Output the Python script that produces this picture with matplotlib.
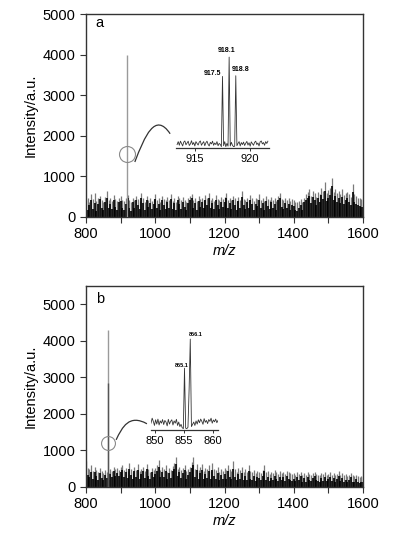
import numpy as np
import matplotlib
matplotlib.use("Agg")
import matplotlib.pyplot as plt
from matplotlib.path import Path
from matplotlib.patches import PathPatch

plt.rcParams['font.family'] = ['Liberation Sans', 'DejaVu Sans']

# ---------------- data ----------------
noise_x = list(range(800, 1601, 5))

noise_a_hi = [
    420, 480, 380, 560, 450, 600, 390, 470, 520, 410, 380, 500, 640, 430, 470, 390, 540, 450, 400, 480,
    520, 430, 390, 460, 540, 410, 370, 480, 420, 510, 450, 400, 590, 460, 380, 520, 430, 470, 400, 440,
    560, 420, 470, 380, 520, 450, 410, 490, 430, 560, 400, 470, 380, 520, 460, 410, 490, 430, 380, 460,
    520, 570, 430, 470, 390, 510, 440, 480, 420, 530, 460, 600, 420, 480, 400, 530, 450, 410, 490, 440,
    500, 580, 430, 470, 410, 520, 460, 400, 490, 430, 640, 450, 410, 480, 420, 530, 470, 400, 460, 440,
    560, 430, 480, 400, 510, 450, 420, 490, 430, 470, 400, 520, 580, 440, 410, 480, 430, 460, 390, 450,
    420, 380, 360, 400, 440, 380, 480, 560, 620, 700, 520, 640, 580, 500, 620, 560, 720, 650, 850, 600,
    660, 720, 970, 620, 700, 580, 640, 560, 680, 540, 600, 620, 560, 500, 810, 560, 520, 480, 460, 440,
    420]
noise_a_lo = [
    380, 180, 300, 420, 200, 350, 160, 310, 450, 220, 170, 380, 470, 230, 330, 190, 420, 250, 180, 360,
    400, 210, 170, 330, 460, 230, 160, 380, 210, 420, 300, 190, 480, 340, 170, 410, 240, 350, 200, 310,
    440, 220, 330, 170, 410, 300, 200, 380, 230, 450, 190, 340, 170, 410, 310, 200, 380, 250, 170, 350,
    420, 460, 220, 340, 180, 400, 240, 370, 210, 430, 300, 480, 220, 350, 190, 420, 290, 200, 380, 250,
    380, 460, 220, 340, 200, 420, 300, 180, 390, 230, 500, 300, 190, 360, 230, 430, 330, 180, 320, 260,
    430, 230, 350, 180, 400, 260, 200, 360, 230, 320, 180, 410, 460, 250, 190, 350, 230, 320, 170, 290,
    260, 170, 160, 220, 300, 180, 360, 430, 470, 520, 350, 490, 430, 300, 470, 380, 540, 440, 650, 400,
    480, 540, 760, 420, 520, 360, 470, 350, 500, 330, 420, 460, 360, 290, 620, 380, 330, 300, 280, 250,
    240]

noise_b_hi = [
    700, 520, 480, 600, 430, 560, 470, 400, 520, 440, 380, 460, 420, 390, 500, 440, 560, 480, 520, 470,
    540, 600, 460, 520, 440, 650, 480, 420, 560, 470, 620, 430, 500, 560, 450, 640, 480, 420, 530, 460,
    520, 600, 740, 460, 540, 480, 600, 420, 520, 460, 580, 650, 830, 480, 550, 460, 520, 600, 440, 500,
    560, 680, 830, 500, 620, 460, 560, 620, 440, 520, 480, 600, 450, 650, 500, 460, 540, 420, 480, 440,
    520, 460, 600, 500, 440, 700, 480, 420, 520, 460, 540, 400, 480, 420, 600, 440, 400, 460, 380, 440,
    420, 380, 460, 600, 400, 440, 360, 420, 380, 460, 400, 360, 430, 380, 420, 360, 450, 400, 380, 360,
    380, 340, 400, 360, 420, 340, 380, 320, 400, 360, 340, 380, 420, 360, 340, 320, 380, 350, 400, 340,
    360, 400, 340, 380, 320, 360, 430, 340, 380, 320, 350, 300, 340, 380, 320, 300, 340, 310, 280, 300,
    280]
noise_b_lo = [
    480, 330, 260, 420, 220, 400, 300, 200, 380, 250, 190, 340, 240, 200, 360, 260, 430, 300, 380, 290,
    420, 470, 270, 400, 240, 500, 320, 210, 430, 280, 470, 230, 360, 440, 250, 480, 300, 210, 400, 260,
    360, 450, 560, 260, 410, 280, 450, 210, 380, 250, 430, 480, 620, 290, 420, 250, 370, 460, 220, 340,
    420, 520, 600, 280, 460, 230, 380, 460, 210, 350, 250, 440, 220, 470, 300, 230, 390, 200, 320, 230,
    360, 230, 430, 280, 210, 500, 260, 190, 350, 230, 380, 180, 300, 200, 430, 230, 190, 290, 170, 260,
    250, 180, 300, 430, 190, 280, 160, 250, 180, 310, 220, 170, 270, 190, 260, 170, 300, 220, 190, 170,
    230, 160, 260, 180, 290, 150, 240, 140, 270, 190, 160, 250, 290, 190, 160, 140, 250, 170, 270, 160,
    210, 270, 160, 240, 140, 210, 300, 170, 250, 140, 200, 130, 200, 260, 150, 130, 210, 140, 120, 150,
    130]

# main peaks
peak_a_x = [918]
peak_a_y = [4000]
peak_b_x = [863, 863]
peak_b_y = [4300, 2850]

# insets
inset_a_x = np.round(np.arange(913.4, 921.65, 0.1), 2)
inset_a_y = [
    150, 280, 120, 300, 200, 90, 260, 310, 140, 220,
    300, 110, 180, 320, 150, 240, 90, 280, 200, 130,
    260, 310, 120, 210, 280, 100, 230, 300, 160, 90,
    250, 180, 300, 120, 220, 150, 280, 100, 200, 160,
    60, 3150, 100, 280, 60, 200, 80, 4000, 90, 250,
    120, 60, 80, 3180, 100, 200, 280, 90, 240, 150,
    260, 110, 210, 290, 130, 230, 80, 270, 190, 120,
    250, 300, 150, 220, 90, 270, 310, 180, 240, 120,
    280, 200, 300]
inset_a_labels = ["917.5", "918.1", "918.8"]
inset_a_label_x = [916.6, 917.9, 919.1]
inset_a_label_y = [3300, 4300, 3450]

inset_b_x = np.round(np.arange(849.3, 860.95, 0.2), 2)
inset_b_y = [
    300, 520, 380, 200, 450, 260, 480, 220, 400, 300,
    460, 240, 420, 350, 180, 470, 260, 380, 450, 220,
    400, 300, 470, 200, 350, 150, 250, 100, 60, 2720,
    80, 60, 120, 1800, 4000, 150, 250, 350, 200, 400,
    260, 450, 320, 480, 380, 250, 500, 340, 420, 280,
    460, 380, 520, 300, 440, 360, 480, 320, 420]
inset_b_labels = ["855.1", "856.1"]
inset_b_label_x = [854.6, 857.0]
inset_b_label_y = [2850, 4180]

W, H = 398, 538
fig = plt.figure(figsize=(W / 100, H / 100), dpi=100)


def px_axes(l, t, r, b):
    return fig.add_axes([l / W, 1 - b / H, (r - l) / W, (b - t) / H])


def main_panel(ax, hi, lo, px, py, ymax, yticks, letter, ly, circ, curve):
    ax.vlines(noise_x, 0, hi, color='#7a7a7a', lw=0.9, zorder=1)
    ax.vlines(noise_x, 0, lo, color='black', lw=1.2, zorder=2)
    ax.vlines(px, 0, py, color=['#9a9a9a', '#555555'][:len(px)], lw=1.0, zorder=3)
    ax.set_xlim(800, 1600)
    ax.set_ylim(0, ymax)
    ax.set_xticks([800, 1000, 1200, 1400, 1600])
    ax.set_xticks([900, 1100, 1300, 1500], minor=True)
    ax.set_yticks(yticks)
    ax.tick_params(axis='both', which='both', direction='out', labelsize=10.5,
                   length=4, width=0.8, color='#333333')
    for s in ax.spines.values():
        s.set_linewidth(1.0)
        s.set_color('#333333')
    ax.set_ylabel('Intensity/a.u.', fontsize=10.5, labelpad=4)
    ax.set_xlabel('m/z', fontsize=10.5, style='italic', labelpad=2)
    ax.text(0.035, ly, letter, transform=ax.transAxes, fontsize=10.5,
            va='center', ha='left')
    ax.plot([circ[0]], [circ[1]], marker='o', ms=circ[2], mfc='none',
            mec='#8a8a8a', mew=0.8, zorder=4)
    path = Path(curve, [Path.MOVETO, Path.CURVE4, Path.CURVE4, Path.CURVE4])
    ax.add_patch(PathPatch(path, fc='none', ec='#333333', lw=0.9, zorder=4))


ax_a = px_axes(86, 14, 363, 217)
main_panel(ax_a, noise_a_hi, noise_a_lo, peak_a_x, peak_a_y, 5000,
           [0, 1000, 2000, 3000, 4000, 5000], 'a', 0.955, (918, 1550, 11.5),
           [(941, 1355), (970, 2000), (1000, 2600), (1043, 2050)])

ax_b = px_axes(86, 286, 363, 487)
main_panel(ax_b, noise_b_hi, noise_b_lo, peak_b_x, peak_b_y, 5500,
           [0, 1000, 2000, 3000, 4000, 5000], 'b', 0.935, (863, 1200, 10),
           [(887, 1290), (905, 1650), (925, 2000), (976, 1730)])


def inset(ax, x, y, xlim, xt, labels, lx, ly, lfs):
    ax.plot(x, y, color='#333333', lw=0.6)
    ax.set_xlim(*xlim)
    ax.set_ylim(0, 4400)
    ax.patch.set_alpha(0)
    for k in ['top', 'right', 'left']:
        ax.spines[k].set_visible(False)
    ax.spines['bottom'].set_linewidth(0.9)
    ax.spines['bottom'].set_color('#333333')
    ax.set_yticks([])
    ax.set_xticks(xt)
    ax.tick_params(axis='x', direction='out', length=2.5, width=0.7,
                   labelsize=8, pad=1.5, color='#333333')
    for t, tx, ty in zip(labels, lx, ly):
        ax.text(tx, ty, t, fontsize=lfs, fontweight='bold', ha='center', va='center')


ia = px_axes(176, 48, 269, 148)
inset(ia, inset_a_x, inset_a_y, (913.3, 921.7), [915, 920],
      inset_a_labels, inset_a_label_x, inset_a_label_y, 5)

ib = px_axes(151, 330, 218, 430)
inset(ib, inset_b_x, inset_b_y, (849.3, 860.9), [850, 855, 860],
      inset_b_labels, inset_b_label_x, inset_b_label_y, 4)

fig.savefig('out.png', dpi=100)
